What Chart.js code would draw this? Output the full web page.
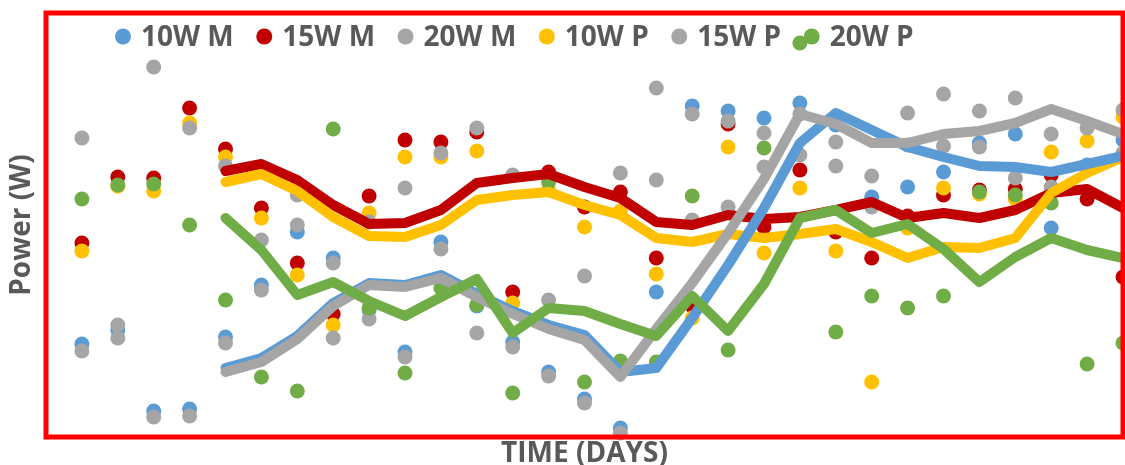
<!DOCTYPE html>
<html>
<head>
<meta charset="utf-8">
<script src="https://cdn.jsdelivr.net/npm/chart.js@4.4.1/dist/chart.umd.min.js"></script>
<style>
  html, body { margin: 0; padding: 0; background: #ffffff; }
  #wrap { width: 1125px; height: 465px; }
</style>
</head>
<body>
<div id="wrap"><canvas id="powerChart" width="1125" height="465"></canvas></div>
<script>
// Day numbers for the daily readings
const days = [1, 2, 3, 4, 5, 6, 7, 8, 9, 10, 11, 12, 13, 14, 15,
              16, 17, 18, 19, 20, 21, 22, 23, 24, 25, 26, 27, 28, 29, 30];
// Days covered by the 5-day moving-average curves
const avgDays = [5, 6, 7, 8, 9, 10, 11, 12, 13, 14, 15, 16, 17,
                 18, 19, 20, 21, 22, 23, 24, 25, 26, 27, 28, 29, 30];

const seriesLabels = ['10W M', '15W M', '20W M', '10W P', '15W P', '20W P'];

// Daily power readings (W)
const m10W = [9.3, 10.7, 2.6, 2.8, 10.0, 15.2, 20.5, 17.9, 12.7, 8.5, 19.5, 13.1, 9.5, 6.5, 3.8,
              0.9, 14.5, 33.1, 32.6, 31.9, 33.4, 31.2, 24.0, 25.0, 26.5, 29.4, 30.3, 20.9, 27.2, 29.7];
const m15W = [19.4, 26.0, 25.9, 32.9, 28.8, 22.9, 17.4, 12.3, 24.1, 29.7, 29.5, 30.5, 14.5, 26.5, 23.0,
              24.5, 17.9, 13.1, 31.3, 21.0, 26.7, 20.5, 17.9, 22.1, 24.2, 24.7, 24.8, 26.2, 23.8, 16.0];
const m20W = [8.6, 9.9, 2.0, 2.1, 9.4, 14.7, 21.2, 17.4, 11.8, 8.0, 18.8, 10.4, 9.0, 6.1, 3.4,
              0.4, 34.9, 32.3, 31.6, 30.4, 32.3, 29.5, 23.0, 32.4, 34.3, 32.6, 33.9, 30.3, 26.9, 28.4];
const p10W = [18.6, 25.1, 24.6, 31.4, 28.0, 21.9, 16.2, 11.2, 22.4, 28.0, 28.0, 28.6, 13.4, 24.7, 21.0,
              22.6, 16.3, 11.9, 29.0, 18.4, 24.9, 18.6, 5.5, 20.9, 24.9, 24.3, 23.8, 28.5, 29.6, 32.0];
const p15W = [29.9, 11.2, 37.0, 30.9, 27.1, 19.7, 24.2, 9.9, 21.5, 24.9, 28.4, 30.9, 26.2, 13.7, 16.1,
              26.4, 25.7, 21.7, 23.0, 27.0, 28.2, 27.1, 26.1, 29.2, 29.1, 29.0, 25.9, 25.0, 30.9, 32.7];
const p20W = [23.8, 25.2, 25.3, 21.2, 13.7, 6.0, 4.6, 30.8, 12.9, 6.4, 14.9, 13.2, 4.4, 25.5, 5.5,
              7.6, 7.5, 24.1, 8.7, 28.9, 39.4, 10.5, 14.1, 12.9, 14.1, 24.5, 24.2, 23.4, 7.3, 9.4];

// 5-day moving averages (W)
const m10WAvg = [6.9, 7.9, 10.1, 13.4, 15.4, 15.2, 16.2, 14.3, 12.6, 11.2, 10.2, 6.5, 6.9,
                 11.9, 17.2, 22.9, 29.4, 32.4, 30.7, 29.0, 28.0, 27.1, 27.0, 26.5, 27.3, 28.1];
const m15WAvg = [26.6, 27.3, 25.7, 23.2, 21.3, 21.4, 22.7, 25.4, 25.9, 26.3, 25.0, 23.9, 21.5,
                 21.2, 22.2, 21.8, 22.0, 22.7, 23.5, 21.9, 22.4, 21.9, 22.7, 24.4, 24.8, 22.9];
const m20WAvg = [6.5, 7.5, 9.8, 13.1, 15.2, 15.0, 15.9, 14.0, 12.3, 10.8, 9.7, 6.0, 10.8,
                 15.4, 20.4, 25.8, 32.3, 31.3, 29.4, 29.4, 30.3, 30.6, 31.4, 32.8, 31.6, 30.3];
const p10WAvg = [25.5, 26.3, 24.6, 22.0, 20.1, 20.0, 21.2, 23.7, 24.2, 24.5, 23.2, 22.2, 19.9,
                 19.5, 20.3, 19.9, 20.3, 20.8, 19.5, 17.9, 19.0, 18.9, 19.9, 24.4, 26.4, 28.0];
const p20WAvg = [21.9, 18.7, 14.2, 15.5, 13.6, 12.1, 14.0, 15.8, 10.4, 12.9, 12.6, 11.3, 10.1,
                 14.1, 10.6, 15.3, 21.9, 22.7, 20.4, 21.3, 18.8, 15.5, 18.0, 19.9, 18.7, 17.9];

const BLUE = '#5B9BD5', RED = '#C00000', GREY = '#A5A5A5', GOLD = '#FFC000', GREEN = '#70AD47';
const TEXT = '#595959';
const FONT = '"Open Sans", "Liberation Sans", sans-serif';

const toPoints = (xs, ys) => ys.map((y, i) => ({ x: xs[i], y }));

function markers(label, values, color, order) {
  return {
    label, inLegend: true, order,
    data: toPoints(days, values),
    showLine: false,
    backgroundColor: color,
    pointBackgroundColor: color,
    pointBorderWidth: 0,
    pointRadius: 7.5,
    pointHoverRadius: 7.5,
    clip: false
  };
}

function average(label, values, color, order) {
  return {
    label, inLegend: false, order,
    data: toPoints(avgDays, values),
    showLine: true,
    borderColor: color,
    backgroundColor: color,
    borderWidth: 10,
    borderJoinStyle: 'round',
    borderCapStyle: 'round',
    pointRadius: 0,
    pointHoverRadius: 0,
    tension: 0,
    fill: false
  };
}

const datasets = [
  markers(seriesLabels[0], m10W, BLUE, 11),
  markers(seriesLabels[1], m15W, RED, 10),
  markers(seriesLabels[2], m20W, GREY, 9),
  markers(seriesLabels[3], p10W, GOLD, 8),
  markers(seriesLabels[4], p15W, GREY, 7),
  markers(seriesLabels[5], p20W, GREEN, 6),
  average('15W M avg', m15WAvg, RED, 5),
  average('10W P avg', p10WAvg, GOLD, 4),
  average('10W M avg', m10WAvg, BLUE, 3),
  average('20W M avg', m20WAvg, GREY, 2),
  average('20W P avg', p20WAvg, GREEN, 1)
];

// Red frame around the plot area
const plotFrame = {
  id: 'plotFrame',
  afterDatasetsDraw(chart) {
    const { ctx, chartArea: a } = chart;
    ctx.save();
    ctx.strokeStyle = '#FF0000';
    ctx.lineWidth = 5;
    ctx.strokeRect(a.left, a.top, a.right - a.left, a.bottom - a.top);
    ctx.restore();
  }
};

// Legend row drawn inside the top of the plot area
const innerLegend = {
  id: 'innerLegend',
  afterDraw(chart) {
    const ctx = chart.ctx;
    ctx.save();
    ctx.font = 'bold 28px ' + FONT;
    ctx.textAlign = 'left';
    ctx.textBaseline = 'alphabetic';
    const baseline = 46;
    let x = chart.chartArea.left + 77;
    chart.data.datasets.filter(d => d.inLegend).forEach(d => {
      ctx.fillStyle = d.backgroundColor;
      ctx.beginPath();
      ctx.arc(x, baseline - 9.5, 8, 0, Math.PI * 2);
      ctx.fill();
      ctx.fillStyle = TEXT;
      ctx.fillText(d.label, x + 18, baseline);
      x += 18 + ctx.measureText(d.label).width + 30.5;
    });
    ctx.restore();
  }
};

new Chart(document.getElementById('powerChart'), {
  type: 'scatter',
  data: { datasets },
  options: {
    responsive: false,
    animation: false,
    devicePixelRatio: 1,
    layout: { autoPadding: false, padding: { left: 0, top: 13, right: 2, bottom: 0 } },
    plugins: {
      legend: { display: false },
      tooltip: { enabled: false }
    },
    scales: {
      x: {
        type: 'linear', min: 0, max: 30,
        grid: { display: false, drawTicks: false, tickLength: 0 },
        border: { display: false },
        ticks: { display: false },
        title: {
          display: true, text: 'TIME (DAYS)', color: TEXT,
          font: { family: FONT, size: 28, weight: 'bold', lineHeight: '22px' },
          padding: { top: 6, bottom: 0 }
        }
      },
      y: {
        type: 'linear', min: 0, max: 42.4,
        grid: { display: false, drawTicks: false, tickLength: 0 },
        border: { display: false },
        ticks: { display: false },
        title: {
          display: true, text: 'Power (W)', color: TEXT,
          font: { family: FONT, size: 28, weight: 'bold', lineHeight: '24px' },
          padding: { top: 10, bottom: 12 }
        }
      }
    }
  },
  plugins: [plotFrame, innerLegend]
});
</script>
</body>
</html>
